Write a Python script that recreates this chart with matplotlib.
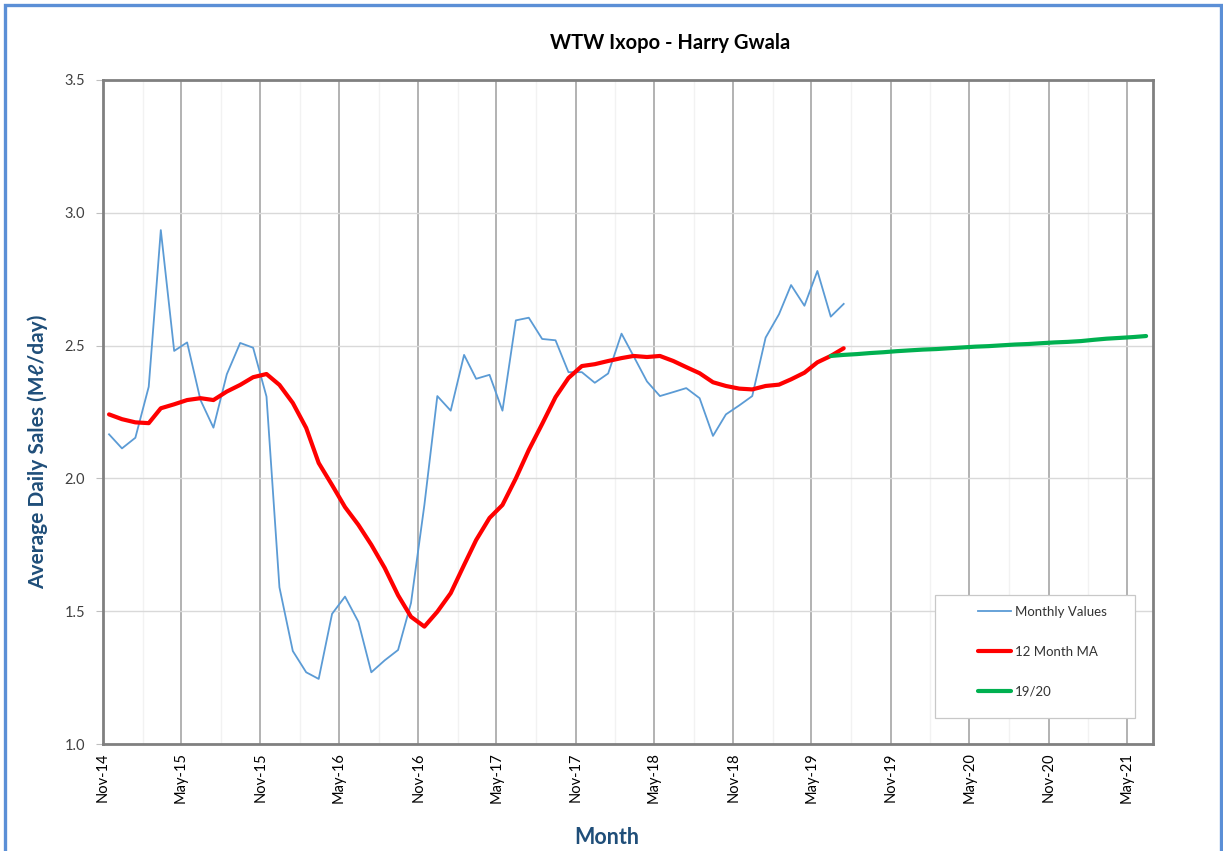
import matplotlib
matplotlib.use("Agg")
import matplotlib.pyplot as plt
import matplotlib.dates as mdates
from matplotlib.patches import Rectangle
import pandas as pd

# monthly averages, Nov-14 .. Jul-19
monthly_values = [
    2.166, 2.113, 2.153, 2.345, 2.935, 2.480, 2.512, 2.295, 2.191, 2.392, 2.510, 2.492,
    2.308, 1.590, 1.350, 1.270, 1.245, 1.490, 1.555, 1.460, 1.270, 1.315, 1.354, 1.531,
    1.900, 2.310, 2.255, 2.465, 2.375, 2.390, 2.255, 2.595, 2.605, 2.525, 2.520, 2.400,
    2.400, 2.360, 2.395, 2.545, 2.460, 2.365, 2.310, 2.325, 2.340, 2.302, 2.160, 2.241,
    2.275, 2.310, 2.530, 2.618, 2.728, 2.650, 2.781, 2.609, 2.657,
]
# 12 month moving average, same months
moving_avg = [
    2.241, 2.223, 2.211, 2.208, 2.264, 2.279, 2.295, 2.302, 2.295, 2.327, 2.352, 2.381,
    2.393, 2.352, 2.284, 2.190, 2.058, 1.975, 1.892, 1.825, 1.750, 1.663, 1.560, 1.479,
    1.442, 1.498, 1.568, 1.674, 1.768, 1.851, 1.900, 2.000, 2.107, 2.205, 2.306, 2.378,
    2.423, 2.430, 2.442, 2.453, 2.461, 2.457, 2.461, 2.442, 2.419, 2.396, 2.362, 2.348,
    2.338, 2.335, 2.348, 2.353, 2.373, 2.398, 2.437, 2.461, 2.490,
]
# 19/20 projection, Jun-19 .. Jun-21
projection = [
    2.461, 2.465, 2.468, 2.472, 2.475, 2.479, 2.482, 2.485, 2.487, 2.490, 2.493, 2.496,
    2.498, 2.501, 2.504, 2.506, 2.509, 2.512, 2.514, 2.517, 2.522, 2.526, 2.529, 2.532,
    2.536,
]
y_ticks = [1.0, 1.5, 2.0, 2.5, 3.0, 3.5]

months = pd.date_range("2014-11-01", periods=len(monthly_values), freq="MS") + pd.Timedelta(days=14)
proj_months = pd.date_range("2019-06-01", periods=len(projection), freq="MS") + pd.Timedelta(days=14)

W, H = 1223, 851
fig = plt.figure(figsize=(W / 100, H / 100), dpi=100)
fig.patch.set_facecolor("white")
font = ["Lato", "DejaVu Sans"]
plt.rcParams["font.family"] = font

ax = fig.add_axes([103 / W, (H - 744) / H, 1050 / W, 664 / H])

ax.plot(months, monthly_values, color="#5B9BD5", lw=1.3, label="Monthly Values", zorder=3)
ax.plot(months, moving_avg, color="#FF0000", lw=3.0, label="12 Month MA", zorder=4,
        solid_joinstyle="round", solid_capstyle="round")
ax.plot(proj_months, projection, color="#00B050", lw=3.0, label="19/20", zorder=5,
        solid_capstyle="round")

ax.set_xlim(pd.Timestamp("2014-11-01"), pd.Timestamp("2021-07-01"))
ax.set_ylim(1.0, 3.5)

ax.xaxis.set_major_locator(mdates.MonthLocator(bymonth=[5, 11]))
ax.xaxis.set_minor_locator(mdates.MonthLocator(bymonth=[2, 8]))
ax.xaxis.set_major_formatter(mdates.DateFormatter("%b-%y"))
ax.set_yticks(y_ticks)
ax.set_yticklabels([f"{v:.1f}" for v in y_ticks])

ax.grid(axis="y", color="#D9D9D9", lw=1.0, zorder=0)
ax.grid(axis="x", which="major", color="#A6A6A6", lw=1.2, zorder=0)
ax.grid(axis="x", which="minor", color="#F2F2F2", lw=1.0, zorder=0)
ax.set_axisbelow(True)

ax.tick_params(axis="x", which="both", length=0, pad=6, labelsize=10.5, labelcolor="#000000",
               labelrotation=90)
ax.tick_params(axis="y", length=5, color="#BFBFBF", pad=8, labelsize=10.5, labelcolor="#404040")
for s in ax.spines.values():
    s.set_color("#808080")
    s.set_linewidth(2.0)

# legend box drawn separately so it can be wider than its content
ax.add_patch(Rectangle(((935 - 103) / 1050, (744 - 718) / 664), 200 / 1050, 123 / 664,
                       transform=ax.transAxes, facecolor="white", edgecolor="#C8C8C8",
                       lw=0.9, zorder=6))
leg = ax.legend(loc="upper left", bbox_to_anchor=((978 - 103) / 1050, (744 - 606) / 664),
                frameon=False, borderpad=0, borderaxespad=0, fontsize=9.5,
                handlelength=2.5, handletextpad=0.3, labelspacing=2.1)
leg.set_zorder(7)
for t in leg.get_texts():
    t.set_color("#333333")

fig.text(670 / W, 1 - 43 / H, "WTW Ixopo - Harry Gwala", ha="center", va="center",
         fontsize=14.5, fontweight="bold", color="#000000")
fig.text(38 / W, 1 - 452 / H, "Average Daily Sales (M\u2113/day)", ha="center", va="center",
         rotation=90, fontsize=15, fontweight="bold", color="#1F4E79", family=font)
fig.text(607 / W, 1 - 837 / H, "Month", ha="center", va="center",
         fontsize=15.5, fontweight="bold", color="#1F4E79")

# outer chart border
fig.patches.append(Rectangle((5 / W, -0.02), (1221 - 5) / W, 1.02 - 5 / H,
                             transform=fig.transFigure, fill=False,
                             edgecolor="#5B8FD6", lw=2.4))

fig.savefig("out.png", dpi=100)
